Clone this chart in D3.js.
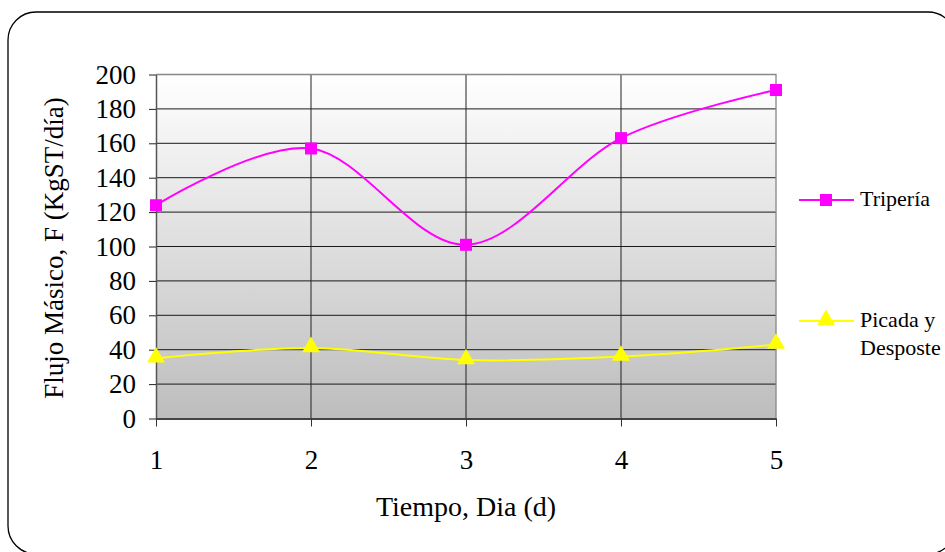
<!DOCTYPE html>
<html>
<head>
<meta charset="utf-8">
<script src="https://cdn.jsdelivr.net/npm/d3@7"></script>
<style>
  html, body { margin: 0; padding: 0; background: #fff; }
  svg { display: block; }
  svg text { font-family: "Liberation Serif", "Times New Roman", serif; fill: #000; }
</style>
</head>
<body>
<svg id="chart" width="945" height="552"></svg>
<script>
// Days on the x axis
const dias = [1, 2, 3, 4, 5];
// Mass flow per area (KgST/día)
const triperia = [124, 157, 101, 163, 191];
const picadaDesposte = [35, 41, 34, 36, 43];
const yTicks = [0, 20, 40, 60, 80, 100, 120, 140, 160, 180, 200];
const seriesNames = ["Tripería", ["Picada y", "Desposte"]];

const svg = d3.select("#chart");

// Outer rounded frame
svg.append("rect")
  .attr("x", 8).attr("y", 12).attr("width", 948).attr("height", 542)
  .attr("rx", 28).attr("ry", 28)
  .attr("fill", "#fff").attr("stroke", "#000").attr("stroke-width", 1.3);

const plot = { left: 156, top: 74.5, right: 776, bottom: 418.5 };

const x = d3.scaleLinear().domain([1, 5]).range([plot.left, plot.right]);
const y = d3.scaleLinear().domain([0, 200]).range([plot.bottom, plot.top]);

// Plot background gradient
const defs = svg.append("defs");
const grad = defs.append("linearGradient").attr("id", "bg")
  .attr("x1", 0).attr("y1", 0).attr("x2", 0).attr("y2", 1);
grad.append("stop").attr("offset", "0%").attr("stop-color", "#ffffff");
grad.append("stop").attr("offset", "100%").attr("stop-color", "#bdbdbd");

svg.append("rect")
  .attr("x", plot.left).attr("y", plot.top)
  .attr("width", plot.right - plot.left).attr("height", plot.bottom - plot.top)
  .attr("fill", "url(#bg)");

// Horizontal grid
svg.append("g").selectAll("line").data(yTicks.slice(1, -1)).join("line")
  .attr("x1", plot.left).attr("x2", plot.right)
  .attr("y1", d => y(d)).attr("y2", d => y(d))
  .attr("stroke", "#1a1a1a").attr("stroke-width", 1);

// Vertical grid
svg.append("g").selectAll("line").data(dias.slice(1, -1)).join("line")
  .attr("x1", d => x(d)).attr("x2", d => x(d))
  .attr("y1", plot.top).attr("y2", plot.bottom)
  .attr("stroke", "#222").attr("stroke-width", 1);

// Plot frame (top and right)
svg.append("path")
  .attr("d", `M${plot.left},${plot.top}H${plot.right}V${plot.bottom}`)
  .attr("fill", "none").attr("stroke", "#888").attr("stroke-width", 1.3);

// Y axis
const yAxis = d3.axisLeft(y).tickValues(yTicks).tickSize(7).tickPadding(13).tickSizeOuter(0);
const gy = svg.append("g").attr("transform", `translate(${plot.left},0)`).call(yAxis)
  .attr("font-family", null).attr("font-size", 27);
gy.select(".domain").attr("stroke", "#555").attr("stroke-width", 1.5);
gy.selectAll(".tick line").attr("stroke", "#222");

// X axis
const xAxis = d3.axisBottom(x).tickValues(dias).tickSize(8).tickPadding(23).tickSizeOuter(0)
  .tickFormat(d3.format("d"));
const gx = svg.append("g").attr("transform", `translate(0,${plot.bottom})`).call(xAxis)
  .attr("font-family", null).attr("font-size", 27);
gx.select(".domain").attr("stroke", "#444").attr("stroke-width", 2);
gx.selectAll(".tick line").attr("stroke", "#333");

// Axis titles
svg.append("text")
  .attr("x", (plot.left + plot.right) / 2).attr("y", 516)
  .attr("text-anchor", "middle").attr("font-size", 28)
  .text("Tiempo, Dia (d)");

svg.append("text")
  .attr("transform", `translate(63,248) rotate(-90)`)
  .attr("text-anchor", "middle").attr("font-size", 27)
  .text("Flujo Másico, F (KgST/día)");

// Smoothed series lines
const line = d3.line()
  .x((d, i) => x(dias[i])).y(d => y(d))
  .curve(d3.curveCardinal.tension(0));

const magenta = "#ff00ff";
const yellow = "#ffff00";

svg.append("path").datum(triperia).attr("d", line)
  .attr("fill", "none").attr("stroke", magenta).attr("stroke-width", 2);
svg.append("path").datum(picadaDesposte).attr("d", line)
  .attr("fill", "none").attr("stroke", yellow).attr("stroke-width", 2);

const square = d3.symbol().type(d3.symbolSquare).size(144);
const triangle = d3.symbol().type(d3.symbolTriangle).size(140);

svg.append("g").selectAll("path").data(triperia).join("path")
  .attr("transform", (d, i) => `translate(${x(dias[i])},${y(d)})`)
  .attr("d", square).attr("fill", magenta);

svg.append("g").selectAll("path").data(picadaDesposte).join("path")
  .attr("transform", (d, i) => `translate(${x(dias[i])},${y(d) - 1})`)
  .attr("d", triangle).attr("fill", yellow);

// Legend
const legend = svg.append("g");
const lg1 = legend.append("g").attr("transform", "translate(799,200)");
lg1.append("line").attr("x1", 0).attr("x2", 55).attr("stroke", magenta).attr("stroke-width", 2);
lg1.append("path").attr("transform", "translate(27,0)").attr("d", square).attr("fill", magenta);
lg1.append("text").attr("x", 61).attr("y", 6).attr("font-size", 22).text(seriesNames[0]);

const lg2 = legend.append("g").attr("transform", "translate(799,321)");
lg2.append("line").attr("x1", 0).attr("x2", 55).attr("stroke", yellow).attr("stroke-width", 2);
lg2.append("path").attr("transform", "translate(27,-1)").attr("d", triangle).attr("fill", yellow);
lg2.selectAll("text").data(seriesNames[1]).join("text")
  .attr("x", 61).attr("y", (d, i) => 6 + i * 28).attr("font-size", 22).text(d => d);
</script>
</body>
</html>
